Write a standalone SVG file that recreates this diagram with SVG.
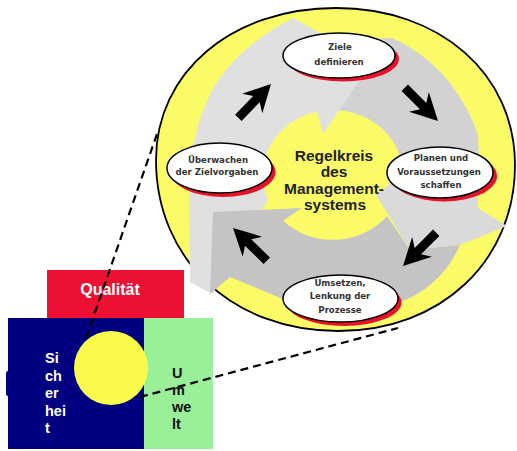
<svg xmlns="http://www.w3.org/2000/svg" width="517" height="451" viewBox="0 0 517 451">
<style>
.lbl{font-family:"DejaVu Sans","Liberation Sans",sans-serif;font-weight:bold;font-size:8.6px;fill:#333;text-anchor:middle}
.ctr{font-family:"Liberation Sans",Arial,sans-serif;font-weight:bold;font-size:15.5px;fill:#222;text-anchor:middle}
.big{font-family:"Liberation Sans",Arial,sans-serif;font-weight:bold;font-size:14.5px}
.node{fill:#fff;stroke:#000;stroke-width:1.5}
.shadow{fill:#e8102a}
.dash{fill:none;stroke:#000;stroke-width:2.2;stroke-dasharray:8 5}
.cur{fill:#000}
</style>
<defs>
<path id="cursor" d="M0,0 L-27,-14 L-21,-4.5 L-47,-4.5 L-47,4.5 L-21,4.5 L-27,14 Z"/>
</defs>
<g id="regelkreis-bg">
<path d="M336,8 C440,8 515,74 515,165 C515,261 441,331 338,331 C232,331 156,259 156,160 C156,72 232,8 336,8 Z" fill="#fbfb68" stroke="#000" stroke-width="1.8"/>
<ellipse cx="333" cy="175" rx="70" ry="65" fill="#fbfb68"/>
</g>
<g id="cycle-arrows">
<path d="M330,40 L392,38 C430,55 462,88 478,135 L479,160 L401.9,186.3 A70 65 0 0 0 320.8,111 Z" fill="#d2d2d2"/>
<path d="M212,294 L190,282 L189,200 C189,160 195,120 215,85 C235,55 260,35 293,18 L372,62 L323,134 L317,111.7 A70 65 0 0 0 268,200 L240,250 Z" fill="#e0e0e0"/>
<path d="M387,216 L410,250 L460,245 C448,272 428,292 398,303 L290,302 L230,277 L210,294 L213,212 L302,208 L283,220.5 A70 65 0 0 0 387,216 Z" fill="#c4c4c4"/>
<path d="M376,195 L395,180 L478,150 L478,208 L507,226 L460,245 L410,250 Z" fill="#dadada"/>
<use href="#cursor" class="cur" transform="translate(271,84) rotate(-46)"/>
<use href="#cursor" class="cur" transform="translate(438,121) rotate(45)"/>
<use href="#cursor" class="cur" transform="translate(403,266) rotate(135)"/>
<use href="#cursor" class="cur" transform="translate(233,228) rotate(-136)"/>
</g>
<g id="center-label">
<text class="ctr" x="334" y="161">Regelkreis</text>
<text class="ctr" x="334" y="177">des</text>
<text class="ctr" x="334" y="194">Management-</text>
<text class="ctr" x="335" y="210">systems</text>
</g>
<g id="ziele">
<ellipse class="shadow" cx="343" cy="59" rx="56" ry="22.5"/>
<ellipse class="node" cx="339" cy="55.5" rx="56" ry="22.5"/>
<text class="lbl" x="340" y="49.5">Ziele</text>
<text class="lbl" x="339" y="64.5">definieren</text>
</g>
<g id="ueberwachen">
<ellipse class="shadow" cx="223" cy="172" rx="52.5" ry="25"/>
<ellipse class="node" cx="219.5" cy="168" rx="52.5" ry="25"/>
<text class="lbl" x="218" y="162.7">Überwachen</text>
<text class="lbl" x="217" y="175">der Zielvorgaben</text>
</g>
<g id="planen">
<ellipse class="shadow" cx="444" cy="176" rx="53" ry="25.5"/>
<ellipse class="node" cx="440" cy="172.5" rx="53" ry="25.5"/>
<text class="lbl" x="441" y="161">Planen und</text>
<text class="lbl" x="439" y="175">Voraussetzungen</text>
<text class="lbl" x="441" y="188">schaffen</text>
</g>
<g id="umsetzen">
<ellipse class="shadow" cx="344" cy="302.5" rx="57.5" ry="23.5"/>
<ellipse class="node" cx="340.5" cy="298.5" rx="57.5" ry="23.5"/>
<text class="lbl" x="340" y="285.5">Umsetzen,</text>
<text class="lbl" x="340" y="299">Lenkung der</text>
<text class="lbl" x="340" y="312.5">Prozesse</text>
</g>
<g id="qualitaet">
<rect x="47" y="270" width="137" height="48" fill="#ec1133"/>
<text x="110" y="295" font-family="Liberation Sans, Arial, sans-serif" font-weight="bold" font-size="16" fill="#fff" text-anchor="middle">Qualität</text>
</g>
<g id="sicherheit">
<rect x="6" y="371" width="4" height="25" rx="2" fill="#000080"/>
<rect x="8" y="318" width="136" height="131" fill="#000080"/>
<text class="big" fill="#fff"><tspan x="45" y="363">Si</tspan><tspan x="45" y="380.5">ch</tspan><tspan x="45" y="398">er</tspan><tspan x="45" y="415.5">hei</tspan><tspan x="45" y="433">t</tspan></text>
</g>
<g id="umwelt">
<rect x="144" y="318" width="69" height="131" fill="#99f099"/>
<text class="big" fill="#111" font-size="15"><tspan x="172" y="378">U</tspan><tspan x="172" y="395">m</tspan><tspan x="172" y="412">we</tspan><tspan x="172" y="429">lt</tspan></text>
</g>
<g id="focus">
<circle cx="111" cy="368" r="37" fill="#fafa4a"/>
</g>
<g id="connectors">
<line class="dash" x1="86" y1="338" x2="158" y2="131"/>
<line class="dash" x1="140" y1="397" x2="398" y2="328"/>
</g>
</svg>
